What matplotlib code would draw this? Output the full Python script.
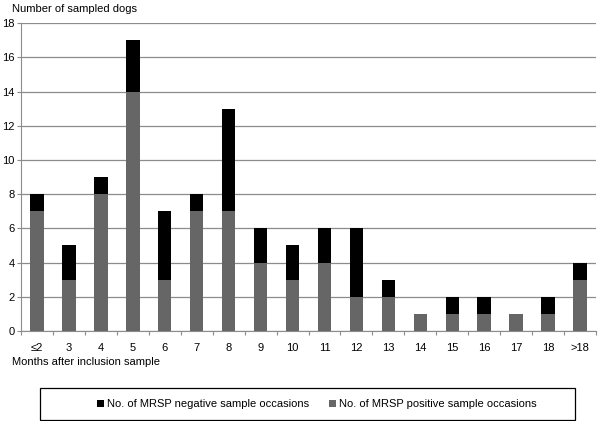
import matplotlib.pyplot as plt
import numpy as np
from matplotlib.patches import Rectangle

months = ["≤2", "3", "4", "5", "6", "7", "8", "9", "10", "11", "12", "13",
          "14", "15", "16", "17", "18", ">18"]
positive = [7, 3, 8, 14, 3, 7, 7, 4, 3, 4, 2, 2, 1, 1, 1, 1, 1, 3]
negative = [1, 2, 1, 3, 4, 1, 6, 2, 2, 2, 4, 1, 0, 1, 1, 0, 1, 1]

plt.rcParams["font.family"] = ["Liberation Sans", "DejaVu Sans"]

fig = plt.figure(figsize=(6, 4.21), dpi=100)
ax = fig.add_axes([21 / 600, 0.214, 575 / 600, 0.731])

x = np.arange(len(months))
width = 0.42
b_pos = ax.bar(x, positive, width, color="#666666", zorder=3,
               label="No. of MRSP positive sample occasions")
b_neg = ax.bar(x, negative, width, bottom=positive, color="#000000", zorder=3,
               label="No. of MRSP negative sample occasions")

ax.set_xlim(-0.5, len(months) - 0.5)
ax.set_ylim(0, 18)
ax.set_yticks(range(0, 19, 2))
ax.yaxis.grid(True, color="#8c8c8c", linewidth=0.9, zorder=0)
ax.set_axisbelow(True)

for side in ("top", "right"):
    ax.spines[side].set_visible(False)
ax.spines["left"].set_color("#8c8c8c")
ax.spines["bottom"].set_color("#8c8c8c")

# ticks on category boundaries, labels centred
ax.set_xticks(np.arange(-0.5, len(months), 1.0))
ax.set_xticklabels([])
ax.set_xticks(x, minor=True)
ax.set_xticklabels(months, minor=True)
ax.tick_params(axis="x", which="major", length=3, color="#8c8c8c")
ax.tick_params(axis="x", which="minor", length=0, pad=9, labelsize=8)
ax.tick_params(axis="y", length=3, pad=1.5, color="#8c8c8c", labelsize=8)

fig.text(0.02, 0.99, "Number of sampled dogs", fontsize=8, va="top", ha="left")
fig.text(0.02, 0.14, "Months after inclusion sample", fontsize=8, va="center", ha="left")

# legend frame drawn separately, entries centred inside it
fig.patches.append(Rectangle((40 / 600, 1 / 421), 535 / 600, 32 / 421,
                             transform=fig.transFigure, fill=False,
                             edgecolor="#000000", linewidth=0.9))
fig.legend(handles=[b_neg, b_pos], loc="center", ncol=2,
           bbox_to_anchor=(317 / 600, 17 / 421),
           fontsize=8, frameon=False,
           handlelength=0.6, handleheight=0.6, handletextpad=0.3,
           columnspacing=1.8)

fig.savefig("out.png", dpi=100)
